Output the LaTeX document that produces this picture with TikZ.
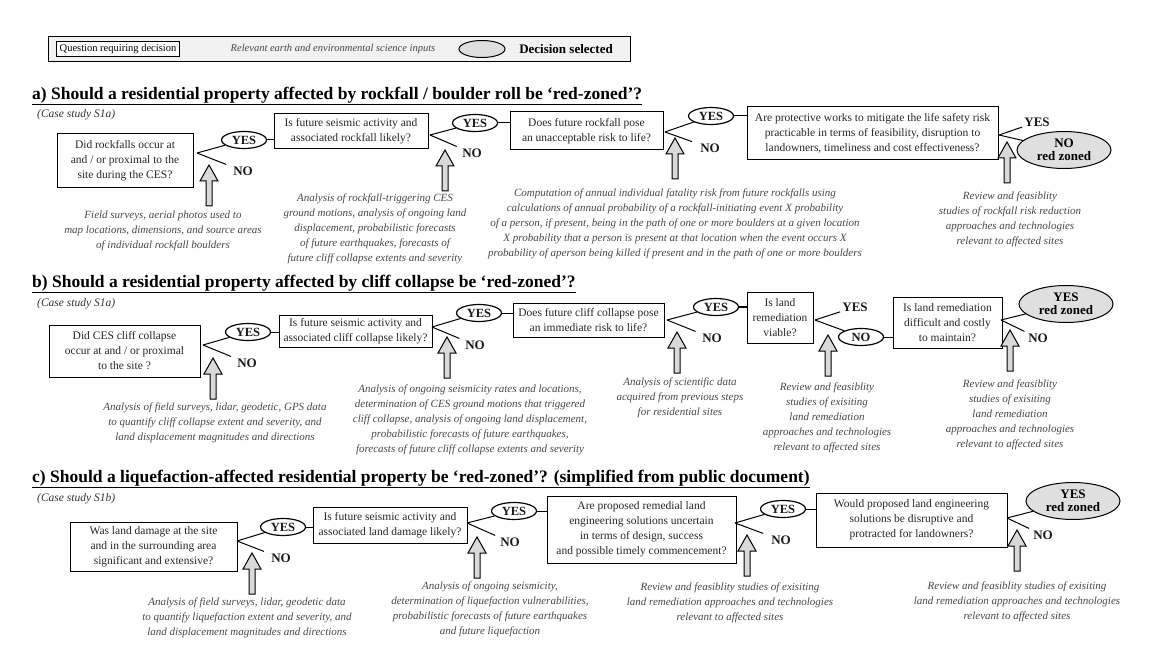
\documentclass[tikz,border=0pt]{standalone}
\usepackage{fontspec}
\setmainfont{Liberation Serif}
\usetikzlibrary{shapes.geometric}

\newcommand{\inputarrow}[1]{%
  \draw[inarrow,shift={(#1)}] (0,0) -- (9,16) -- (3,16) -- (3,41) -- (-3,41) -- (-3,16) -- (-9,16) -- cycle;}

\begin{document}
\begin{tikzpicture}[x=1pt,y=-1pt]
\tikzstyle{question}=[draw,line width=1pt,align=center,inner sep=2pt,text=black!85,font=\fontsize{11.5}{15}\selectfont]
\tikzstyle{science}=[align=center,text=black!72,font=\fontsize{11}{15}\selectfont\itshape]
\tikzstyle{answer}=[ellipse,draw,line width=1.2pt,inner sep=0pt,minimum width=45pt,minimum height=17pt,text=black!90,font=\fontsize{12.5}{13}\selectfont\bfseries]
\tikzstyle{answertext}=[inner xsep=8pt,inner ysep=2pt,text=black!90,font=\fontsize{13}{13}\selectfont\bfseries]
\tikzstyle{decision}=[ellipse,draw,fill=gray!25,line width=1pt,align=center,inner sep=0pt,minimum width=94pt,minimum height=37pt,font=\fontsize{13}{13}\selectfont\bfseries]
\tikzstyle{heading}=[anchor=west,inner sep=0pt,font=\fontsize{17.5}{18}\selectfont\bfseries]
\tikzstyle{casestudy}=[anchor=west,inner sep=0pt,text=black!80,font=\fontsize{11.5}{12}\selectfont\itshape]
\tikzstyle{branch}=[line width=1pt]
\tikzstyle{inarrow}=[draw,fill=gray!30,line width=1pt,line join=miter]
% end of definitions
\useasboundingbox (0,0) rectangle (1175,652);

% legend
\node[draw,line width=1pt,fill=gray!10,minimum width=582pt,minimum height=25pt,inner sep=0pt] (legend) at (339,49) {};
\node[draw,line width=1pt,fill=white,inner sep=3pt,font=\fontsize{10.5}{10}\selectfont] (legq) at (118,49) {Question requiring decision};
\node[science,font=\fontsize{10.5}{10}\selectfont\itshape] (legs) at (333,49) {Relevant earth and environmental science inputs};
\node[decision,minimum width=46pt,minimum height=17pt] (legd) at (482,49) {};
\node[font=\fontsize{13}{13}\selectfont\bfseries] (legt) at (566,49) {Decision selected};

% a) rockfall
\node[heading] (heada) at (32,96) {\underline{a) Should a residential property affected by rockfall / boulder roll be `red-zoned'?}};
\node[casestudy] (casea) at (37,115) {(Case study S1a)};

\node[question,minimum width=136pt,minimum height=54pt] (qa1) at (125,161) {Did rockfalls occur at\\and / or proximal to the\\site during the CES?};
\coordinate (bra1) at (197,153);
\node[answer] (ya1) at (244,140) {YES};
\node[answertext] (na1) at (243,171) {NO};
\draw[branch] (bra1) -- (ya1);
\draw[branch] (bra1) -- (na1);
\coordinate (tipa1) at (209,165);
\inputarrow{tipa1}
\node[science] (sa1) at (163,231) {Field surveys, aerial photos used to\\map locations, dimensions, and source areas\\of individual rockfall boulders};

\node[question,minimum width=154pt,minimum height=35pt] (qa2) at (351,131.5) {Is future seismic activity and\\associated rockfall likely?};
\draw[branch] (ya1.east) -- (ya1.east -| qa2.west);
\coordinate (bra2) at (430,135);
\node[answer] (ya2) at (475,123) {YES};
\node[answertext] (na2) at (472,153) {NO};
\draw[branch] (bra2) -- (ya2);
\draw[branch] (bra2) -- (na2);
\coordinate (tipa2) at (445,150);
\inputarrow{tipa2}
\node[science] (sa2) at (375,228.5) {Analysis of rockfall-triggering CES\\ground motions, analysis of ongoing land\\displacement, probabilistic forecasts\\of future earthquakes, forecasts of\\future cliff collapse extents and severity};

\node[question,minimum width=153pt,minimum height=38pt] (qa3) at (586.5,131) {Does future rockfall pose\\an unacceptable risk to life?};
\draw[branch] (ya2.east) -- (ya2.east -| qa3.west);
\coordinate (bra3) at (665,132);
\node[answer] (ya3) at (711,116) {YES};
\node[answertext] (na3) at (710,148) {NO};
\draw[branch] (bra3) -- (ya3);
\draw[branch] (bra3) -- (na3);
\coordinate (tipa3) at (675,138);
\inputarrow{tipa3}
\node[science] (sa3) at (675,224) {Computation of annual individual fatality risk from future rockfalls using\\calculations of annual probability of a rockfall-initiating event X probability\\of a person, if present, being in the path of one or more boulders at a given location\\X probability that a person is present at that location when the event occurs X\\probability of aperson being killed if present and in the path of one or more boulders};

\node[question,minimum width=251pt,minimum height=53pt] (qa4) at (872.5,133.5) {Are protective works to mitigate the life safety risk\\practicable in terms of feasibility, disruption to\\landowners, timeliness and cost effectiveness?};
\draw[branch] (ya3.east) -- (ya3.east -| qa4.west);
\coordinate (bra4) at (999,135);
\node[answertext,inner xsep=2pt] (ya4) at (1037,122) {YES};
\node[decision] (da4) at (1064,150) {NO\\red zoned};
\draw[branch] (bra4) -- (ya4);
\draw[branch] (bra4) -- (da4);
\coordinate (tipa4) at (1007,142);
\inputarrow{tipa4}
\node[science] (sa4) at (1010,219) {Review and feasiblity\\studies of rockfall risk reduction\\approaches and technologies\\relevant to affected sites};

% b) cliff collapse
\node[heading] (headb) at (32,284) {\underline{b) Should a residential property affected by cliff collapse be `red-zoned'?}};
\node[casestudy] (caseb) at (37,304) {(Case study S1a)};

\node[question,minimum width=151pt,minimum height=52pt] (qb1) at (124.5,351) {Did CES cliff collapse\\occur at and / or proximal\\to the site ?};
\coordinate (brb1) at (203,345);
\node[answer] (yb1) at (248,332) {YES};
\node[answertext] (nb1) at (247,363) {NO};
\draw[branch] (brb1) -- (yb1);
\draw[branch] (brb1) -- (nb1);
\coordinate (tipb1) at (213,358);
\inputarrow{tipb1}
\node[science] (sb1) at (215,423) {Analysis of field surveys, lidar, geodetic, GPS data\\to quantify cliff collapse extent and severity, and\\land displacement magnitudes and directions};

\node[question,minimum width=153pt,minimum height=32pt] (qb2) at (355.5,331) {Is future seismic activity and\\associated cliff collapse likely?};
\draw[branch] (yb1.east) -- (yb1.east -| qb2.west);
\coordinate (brb2) at (432,327);
\node[answer] (yb2) at (479,313) {YES};
\node[answertext] (nb2) at (475,345) {NO};
\draw[branch] (brb2) -- (yb2);
\draw[branch] (brb2) -- (nb2);
\coordinate (tipb2) at (447,337);
\inputarrow{tipb2}
\node[science] (sb2) at (470,420) {Analysis of ongoing seismicity rates and locations,\\determination of CES ground motions that triggered\\cliff collapse, analysis of ongoing land displacement,\\probabilistic forecasts of future earthquakes,\\forecasts of future cliff collapse extents and severity};

\node[question,minimum width=151pt,minimum height=33pt] (qb3) at (588.5,320.5) {Does future cliff collapse pose\\an immediate risk to life?};
\draw[branch] (yb2.east) -- (yb2.east -| qb3.west);
\coordinate (brb3) at (667,320);
\node[answer] (yb3) at (716,307) {YES};
\node[answertext] (nb3) at (712,338) {NO};
\draw[branch] (brb3) -- (yb3);
\draw[branch] (brb3) -- (nb3);
\coordinate (tipb3) at (677,332);
\inputarrow{tipb3}
\node[science] (sb3) at (680,398) {Analysis of scientific data\\acquired from previous steps\\for residential sites};

\node[question,minimum width=66pt,minimum height=50pt] (qb4) at (780,318) {Is land\\remediation\\viable?};
\draw[branch] (yb3.east) -- (yb3.east -| qb4.west);
\coordinate (brb4) at (815,320);
\node[answertext,inner xsep=2pt] (yb4) at (855,307) {YES};
\node[answer] (nb4) at (861,337) {NO};
\draw[branch] (brb4) -- (yb4);
\draw[branch] (brb4) -- (nb4);
\coordinate (tipb4) at (828,335);
\inputarrow{tipb4}
\node[science] (sb4) at (827,418) {Review and feasiblity\\studies of exisiting\\land remediation\\approaches and technologies\\relevant to affected sites};

\node[question,minimum width=109pt,minimum height=50pt] (qb5) at (947.5,323) {Is land remediation\\difficult and costly\\to maintain?};
\draw[branch] (nb4.east) -- (nb4.east -| qb5.west);
\coordinate (brb5) at (1001,320);
\node[decision] (db5) at (1066,304) {YES\\red zoned};
\node[answertext] (nb5) at (1038,338) {NO};
\draw[branch] (brb5) -- (db5);
\draw[branch] (brb5) -- (nb5);
\coordinate (tipb5) at (1010,330);
\inputarrow{tipb5}
\node[science] (sb5) at (1010,415) {Review and feasiblity\\studies of exisiting\\land remediation\\approaches and technologies\\relevant to affected sites};

% c) liquefaction
\node[heading] (headc) at (32,479) {\underline{c) Should a liquefaction-affected residential property be `red-zoned'? (simplified from public document)}};
\node[casestudy] (casec) at (37,499) {(Case study S1b)};

\node[question,minimum width=167pt,minimum height=49pt] (qc1) at (153.5,546.5) {Was land damage at the site\\and in the surrounding area\\significant and extensive?};
\coordinate (brc1) at (237,541);
\node[answer] (yc1) at (283,527) {YES};
\node[answertext] (nc1) at (281,558) {NO};
\draw[branch] (brc1) -- (yc1);
\draw[branch] (brc1) -- (nc1);
\coordinate (tipc1) at (252,553);
\inputarrow{tipc1}
\node[science] (sc1) at (247,618) {Analysis of field surveys, lidar, geodetic data\\to quantify liquefaction extent and severity, and\\land displacement magnitudes and directions};

\node[question,minimum width=154pt,minimum height=36pt] (qc2) at (390,525) {Is future seismic activity and\\associated land damage likely?};
\draw[branch] (yc1.east) -- (yc1.east -| qc2.west);
\coordinate (brc2) at (467,523);
\node[answer] (yc2) at (514,511) {YES};
\node[answertext] (nc2) at (510,542) {NO};
\draw[branch] (brc2) -- (yc2);
\draw[branch] (brc2) -- (nc2);
\coordinate (tipc2) at (477,537);
\inputarrow{tipc2}
\node[science] (sc2) at (490,609.5) {Analysis of ongoing seismicity,\\determination of liquefaction vulnerabilities,\\probabilistic forecasts of future earthquakes\\and future liquefaction};

\node[question,minimum width=189pt,minimum height=67pt] (qc3) at (641.5,529.5) {Are proposed remedial land\\engineering solutions uncertain\\in terms of design, success\\and possible timely commencement?};
\draw[branch] (yc2.east) -- (yc2.east -| qc3.west);
\coordinate (brc3) at (735,523);
\node[answer] (yc3) at (783,509) {YES};
\node[answertext] (nc3) at (781,540) {NO};
\draw[branch] (brc3) -- (yc3);
\draw[branch] (brc3) -- (nc3);
\coordinate (tipc3) at (747,535);
\inputarrow{tipc3}
\node[science] (sc3) at (730,603) {Review and feasiblity studies of exisiting\\land remediation approaches and technologies\\relevant to affected sites};

\node[question,minimum width=191pt,minimum height=54pt] (qc4) at (911.5,520) {Would proposed land engineering\\solutions be disruptive and\\protracted for landowners?};
\draw[branch] (yc3.east) -- (yc3.east -| qc4.west);
\coordinate (brc4) at (1007,518);
\node[decision] (dc4) at (1073,501) {YES\\red zoned};
\node[answertext] (nc4) at (1043,535) {NO};
\draw[branch] (brc4) -- (dc4);
\draw[branch] (brc4) -- (nc4);
\coordinate (tipc4) at (1017,530);
\inputarrow{tipc4}
\node[science] (sc4) at (1017,602) {Review and feasiblity studies of exisiting\\land remediation approaches and technologies\\relevant to affected sites};
\end{tikzpicture}
\end{document}
